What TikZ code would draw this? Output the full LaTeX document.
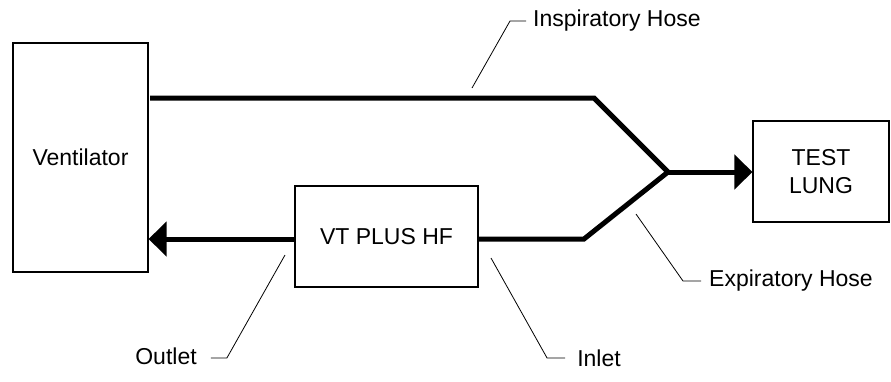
\documentclass[tikz,border=0pt]{standalone}
\usepackage{fontspec}
\setmainfont{Liberation Sans}
\usetikzlibrary{arrows.meta,positioning}
\begin{document}
\begin{tikzpicture}[x=1pt, y=-1pt,
  box/.style={draw, line width=1.1pt, font=\fontsize{23}{28}\selectfont, align=center},
  hose/.style={line width=5pt},
  tip/.style={-{Triangle[length=18pt,width=34pt]}},
  leader/.style={line width=0.8pt},
  lbl/.style={font=\fontsize{23}{28}\selectfont, inner sep=4pt}]
  \useasboundingbox (0,0) rectangle (891,381);
  % Boxes
  \node[box, minimum width=135pt, minimum height=229pt] (vent) at (80.5,157.5) {Ventilator};
  \node[box, minimum width=136pt, minimum height=101pt] (lung) at (821,171.5) {TEST\\LUNG};
  \node[box, minimum width=183pt, minimum height=101pt] (vtplus) at (386.5,236.5) {VT PLUS HF};
  % Hoses
  \coordinate (join) at (668,172);
  \draw[hose, line join=miter] (150,98) -- (594,98) -- (join) -- (584,239) -- (vtplus.east |- 0,239);
  \draw[hose, tip] (join) -- (lung.west |- join);
  \draw[hose, tip] (vtplus.west |- 0,239) -- (vent.east |- 0,239);
  % Labels and leaders
  \node[lbl, anchor=west] (insp) at (529,21) {Inspiratory Hose};
  \coordinate (insptip) at (472,88);
  \draw[leader] ([xshift=-3pt]insp.west) -- ++(-16,0) -- (insptip);
  \node[lbl, anchor=west] (exp) at (705,281) {Expiratory Hose};
  \coordinate (exptip) at (636,214);
  \draw[leader] ([xshift=-4pt]exp.west) -- ++(-18,0) -- (exptip);
  \node[lbl] (outlet) at (166,356) {Outlet};
  \coordinate (outtip) at (285,255);
  \draw[leader] ([xshift=10pt,yshift=-2pt]outlet.east) -- ++(16,0) -- (outtip);
  \node[lbl] (inlet) at (599,358) {Inlet};
  \coordinate (intip) at (491,258);
  \draw[leader] ([xshift=-8pt]inlet.west) -- ++(-18,0) -- (intip);
\end{tikzpicture}
\end{document}
